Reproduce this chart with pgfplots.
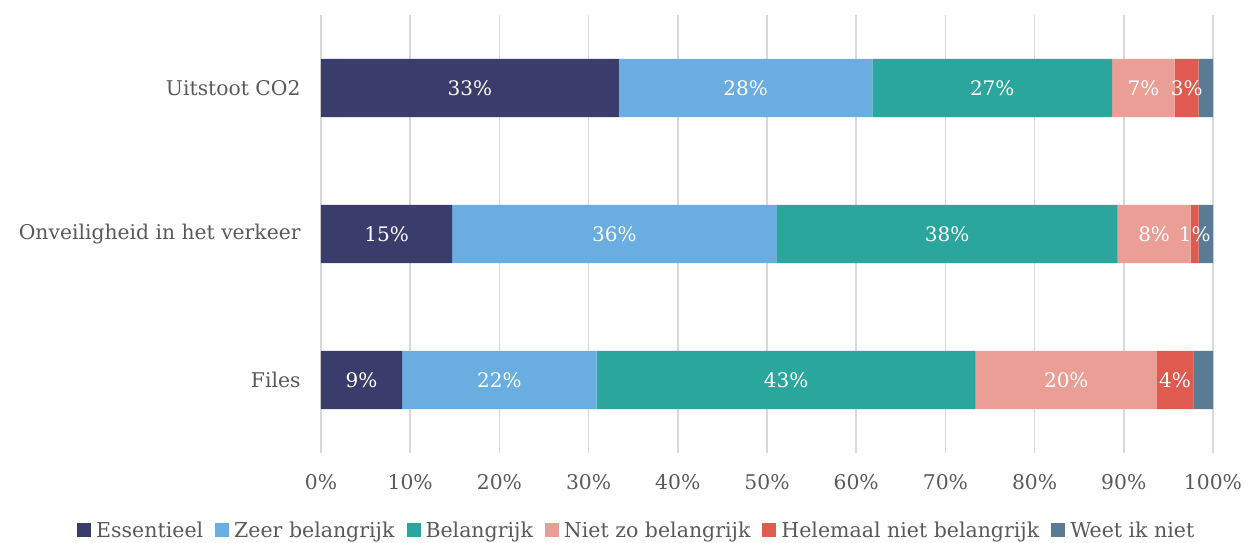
\documentclass[border=0pt]{standalone}
\usepackage{fontspec}
\setmainfont{DejaVu Serif}
\usepackage{pgfplots}
\pgfplotsset{compat=1.18}
\definecolor{cA}{HTML}{3A3D6B}
\definecolor{cB}{HTML}{6AADE0}
\definecolor{cC}{HTML}{2AA69C}
\definecolor{cD}{HTML}{EA9E96}
\definecolor{cE}{HTML}{DF5B50}
\definecolor{cF}{HTML}{5B7A93}
\definecolor{txt}{HTML}{595959}
\definecolor{grd}{HTML}{D9D9D9}
\pgfplotsset{
  sq/.style={legend image code/.code={\fill[##1] (0pt,-7pt) rectangle (14pt,7pt);}},
  base/.style={scale only axis, width=892pt, height=438pt,
    xmin=0, xmax=100, ymin=-0.5, ymax=2.5}
}
\begin{document}
\begin{tikzpicture}
\begin{axis}[base, name=ax,
  xbar stacked, bar width=0.4,
  axis line style={draw=none}, tick style={draw=none},
  xtick={0,10,20,30,40,50,60,70,80,90,100},
  xticklabels={0\%,10\%,20\%,30\%,40\%,50\%,60\%,70\%,80\%,90\%,100\%},
  ytick={0,1,2},
  yticklabels={Files, Onveiligheid in het verkeer, Uitstoot CO2},
  xmajorgrids, major grid style={color=grd, line width=1.5pt},
  ticklabel style={font=\fontsize{20.3}{24}\selectfont, text=txt},
  xticklabel style={yshift=-18pt},
  yticklabel style={xshift=-17pt},
  legend style={draw=none, fill=none, at={(0.354,-0.176)}, anchor=center,
    legend columns=6, font=\fontsize{20.5}{24}\selectfont, text=txt,
    /tikz/every even column/.append style={column sep=10pt},
    /tikz/every odd column/.append style={column sep=3pt}},
]
\addplot[fill=cA, draw=none, sq] coordinates {(33.4,2) (14.7,1) (9.1,0)};
\addlegendentry{Essentieel}
\addplot[fill=cB, draw=none, sq] coordinates {(28.4,2) (36.4,1) (21.8,0)};
\addlegendentry{Zeer belangrijk}
\addplot[fill=cC, draw=none, sq] coordinates {(26.9,2) (38.2,1) (42.5,0)};
\addlegendentry{Belangrijk}
\addplot[fill=cD, draw=none, sq] coordinates {(7.0,2) (8.2,1) (20.3,0)};
\addlegendentry{Niet zo belangrijk}
\addplot[fill=cE, draw=none, sq] coordinates {(2.7,2) (0.9,1) (4.1,0)};
\addlegendentry{Helemaal niet belangrijk}
\addplot[fill=cF, draw=none, sq] coordinates {(1.6,2) (1.6,1) (2.2,0)};
\addlegendentry{Weet ik niet}
\end{axis}
\begin{axis}[base, hide axis, clip=false]
\addplot[draw=none, point meta=explicit, nodes near coords={\pgfmathprintnumber[fixed,precision=0,assume math mode=true]{\pgfplotspointmeta}\%},
  nodes near coords style={text=white, anchor=center, inner sep=0pt, font=\fontsize{20}{24}\selectfont}]
  table[x=x, y=y, meta=v] {
x y v
16.7 2 33
47.6 2 28
75.25 2 27
92.2 2 7
97.05 2 3
7.35 1 15
32.9 1 36
70.2 1 38
93.4 1 8
97.95 1 1
4.55 0 9
20.0 0 22
52.15 0 43
83.55 0 20
95.75 0 4
};
\end{axis}
\pgfresetboundingbox
\path ([xshift=-321pt,yshift=-90pt]ax.south west) rectangle ([xshift=923pt,yshift=453pt]ax.south west);
\end{tikzpicture}
\end{document}
